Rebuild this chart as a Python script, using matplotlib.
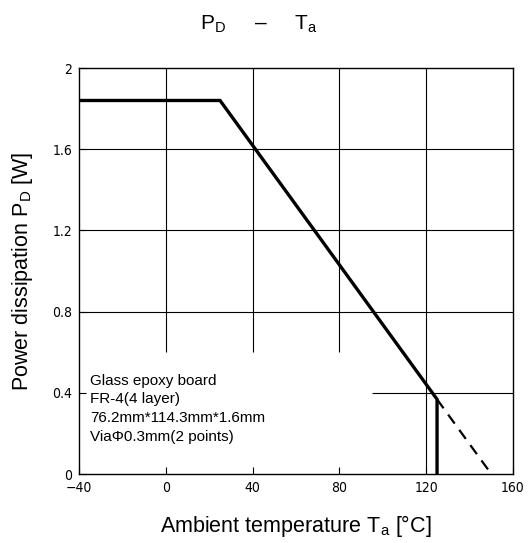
"""PD - Ta derating curve (glass epoxy board)."""

import matplotlib
matplotlib.use("Agg")
import matplotlib.pyplot as plt
from matplotlib import font_manager

# derating curve, solid part
temp_c = [-40, 25, 125, 125]
power_w = [1.84, 1.84, 0.368, 0.0]
# extrapolated part, dashed
temp_dash = [125, 150]
power_dash = [0.368, 0.0]

x_ticks = [-40, 0, 40, 80, 120, 160]
x_labels = ["\u221240", "0", "40", "80", "120", "160"]
y_ticks = [0, 0.4, 0.8, 1.2, 1.6, 2.0]
y_labels = ["0", "0.4", "0.8", "1.2", "1.6", "2"]

board_note = [
    "Glass epoxy board",
    "FR-4(4 layer)",
    "76.2mm*114.3mm*1.6mm",
    "Via\u03a60.3mm(2 points)",
]

plt.rcParams["font.family"] = ["Liberation Sans", "DejaVu Sans"]
plt.rcParams["mathtext.fontset"] = "custom"
plt.rcParams["mathtext.rm"] = "Liberation Sans"
plt.rcParams["mathtext.it"] = "Liberation Sans"

fig = plt.figure(figsize=(5.28, 5.43), dpi=100)
ax = fig.add_axes([79 / 528, 1 - 474 / 543, 434 / 528, 406 / 543])

ax.set_xlim(-40, 160)
ax.set_ylim(0, 2)

# grid: partly hidden behind the board note in the lower left
grid_kw = dict(color="black", linewidth=0.8, zorder=1)
for x in [0, 40, 80]:
    ax.vlines(x, 0.6, 2.0, **grid_kw)
ax.vlines(120, 0.0, 2.0, **grid_kw)
for y in [0.8, 1.2, 1.6]:
    ax.hlines(y, -40, 160, **grid_kw)
ax.hlines(0.4, 95, 160, **grid_kw)

ax.plot(temp_c, power_w, color="black", linewidth=2.4,
        solid_joinstyle="miter", zorder=3)
ax.plot(temp_dash, power_dash, color="black", linewidth=1.6,
        dashes=(5, 3.5), zorder=3)

tick_font = font_manager.FontProperties(family="DejaVu Sans", stretch="condensed", size=10)
ax.set_xticks(x_ticks)
ax.set_xticklabels(x_labels, fontproperties=tick_font)
ax.set_yticks(y_ticks)
ax.set_yticklabels(y_labels, fontproperties=tick_font)
ax.tick_params(direction="in", length=5, width=0.8, pad=5)

for s in ax.spines.values():
    s.set_linewidth(1.0)

for i, line in enumerate(board_note):
    ax.text(-35, 0.46 - i * 0.092, line, fontsize=11, va="center", ha="left")

ax.set_xlabel("Ambient temperature T$_\\mathrm{a}$ [\u00b0C]", fontsize=15.5, labelpad=13)
ax.set_ylabel("Power dissipation P$_\\mathrm{D}$ [W]", fontsize=15.5, labelpad=12)

fig.text(259 / 528, 1 - 24 / 543, "P$_\\mathrm{D}$     \u2013     T$_\\mathrm{a}$",
         fontsize=15, ha="center", va="center")

fig.savefig("out.png", dpi=100)
